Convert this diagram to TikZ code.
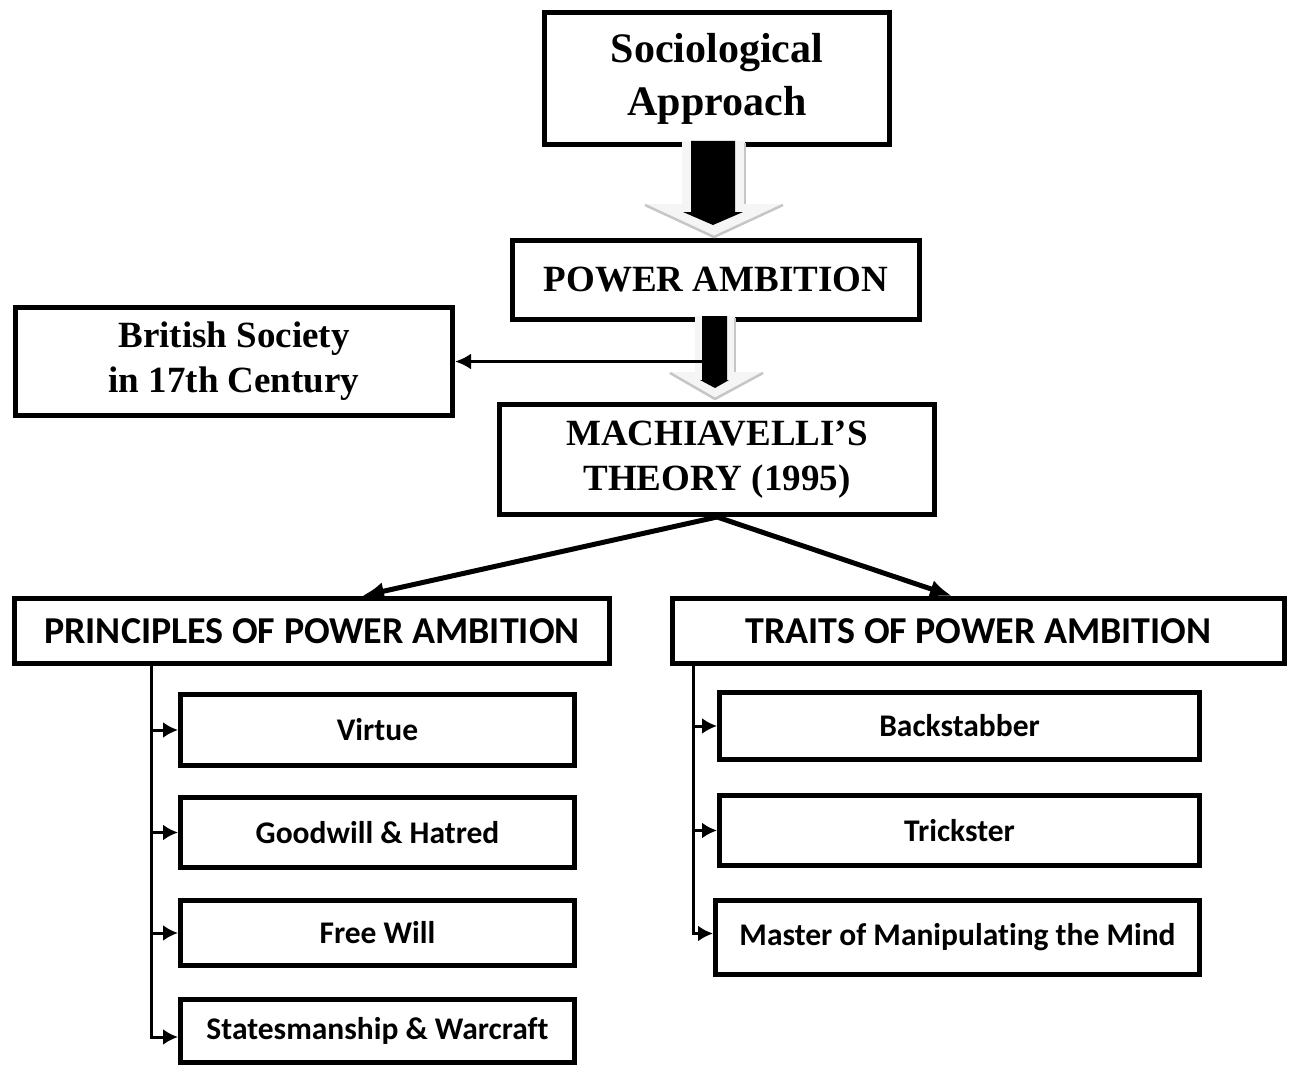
\documentclass[tikz,border=0pt]{standalone}
\usepackage{fontspec}
\setmainfont{Liberation Serif}
\newfontfamily\carl[Ligatures={NoCommon}]{Carlito}
\usetikzlibrary{arrows.meta}
\begin{document}
\begin{tikzpicture}[x=1pt,y=-1pt,
 box/.style={draw,line width=5pt,inner sep=0pt,align=center,fill=white},
 bigserif/.style={font=\bfseries\fontsize{42}{53}\selectfont},
 serif/.style={font=\bfseries\fontsize{37}{45}\selectfont},
 headtxt/.style={font=\carl\bfseries\fontsize{38}{46}\selectfont},
 itemtxt/.style={font=\carl\bfseries\fontsize{31.5}{38}\selectfont},
 branch/.style={line width=3pt,-{Latex[length=15pt,width=16pt]}},
 fork/.style={line width=5pt,-{Latex[length=22pt,width=18pt]}},
 side/.style={line width=3pt,-{Latex[length=16pt,width=16pt]}},
 glow/.style={fill=gray!8},
 glowedge/.style={draw=gray!45,line width=2.5pt,line join=round},
 core/.style={fill=black},
]
\useasboundingbox (0,0) rectangle (1296,1070);

% boxes
\node[box,bigserif,minimum width=345pt,minimum height=132pt] (soc) at (717,78.5) {Sociological\\Approach};
\node[box,serif,minimum width=407pt,minimum height=79pt] (pow) at (716,280) {POWER AMBITION};
\node[box,serif,minimum width=437pt,minimum height=108pt] (brit) at (234,361.5) {British Society\\in 17th Century};
\node[box,serif,minimum width=435pt,minimum height=110pt] (mach) at (717,459.5) {MACHIAVELLI’S\\THEORY (1995)};
\node[box,headtxt,minimum width=595pt,minimum height=65pt] (prin) at (312,631) {PRINCIPLES OF POWER AMBITION};
\node[box,headtxt,minimum width=612pt,minimum height=65pt] (trait) at (978.5,631) {TRAITS OF POWER AMBITION};

\node[box,itemtxt,minimum width=394pt,minimum height=71pt] (virt) at (377.5,730) {Virtue};
\node[box,itemtxt,minimum width=394pt,minimum height=70pt] (good) at (377.5,832.5) {Goodwill \& Hatred};
\node[box,itemtxt,minimum width=394pt,minimum height=65pt] (free) at (377.5,933) {Free Will};
\node[box,itemtxt,minimum width=394pt,minimum height=63pt] (stat) at (377.5,1031) {Statesmanship \& Warcraft};

\node[box,itemtxt,minimum width=480pt,minimum height=67pt] (back) at (959.5,726) {Backstabber};
\node[box,itemtxt,minimum width=480pt,minimum height=70pt] (trick) at (959.5,830.5) {Trickster};
\node[box,itemtxt,minimum width=484pt,minimum height=74pt] (mast) at (957.5,937.5) {Master of Manipulating the Mind};

% block arrow 1
\begin{scope}[shift={(soc.south)}]
 \path[glow] (-35,-6) -- (28,-6) -- (28,57) -- (68,57) -- (-3,91) -- (-74,57) -- (-35,57) -- cycle;
 \path[glowedge] (28,-4) -- (28,57);
 \path[glowedge] (66,58) -- (-3,90) -- (-72,58);
 \path[core] (-26,-6) -- (18,-6) -- (18,65) -- (26,65) -- (-4,78) -- (-34,65) -- (-26,65) -- cycle;
\end{scope}

% block arrow 2 and side arrow
\coordinate (bs) at ([xshift=-10pt]pow.south |- brit.east);
\begin{scope}[shift={(pow.south)}]
 \path[glow] (-21,-6) -- (19,-6) -- (19,50) -- (49,50) -- (-1,78) -- (-48,50) -- (-21,50) -- cycle;
 \path[glowedge] (19,-4) -- (19,50);
 \path[glowedge] (47,51) -- (-1,77) -- (-46,51);
\end{scope}
\draw[side] (bs) -- (brit.east);
\begin{scope}[shift={(pow.south)}]
 \path[core] (-14,-6) -- (11,-6) -- (11,58) -- (13,58) -- (-1,66) -- (-16,58) -- (-14,58) -- cycle;
\end{scope}

% fork arrows
\draw[fork] (mach.south) -- ([xshift=50pt]prin.north);
\draw[fork] (mach.south) -- ([xshift=-26.5pt]trait.north);

% left trunk
\coordinate (lt) at ([xshift=-161pt]prin.south);
\draw[branch] (lt) |- ([yshift=-6pt]stat.west);
\draw[branch] (lt |- virt.west) -- (virt.west);
\draw[branch] (lt |- good.west) -- (good.west);
\draw[branch] (lt |- free.west) -- (free.west);

% right trunk
\coordinate (rt) at ([xshift=-285.5pt]trait.south);
\draw[branch] (rt) |- ([yshift=4pt]mast.west);
\draw[branch] (rt |- back.west) -- (back.west);
\draw[branch] (rt |- trick.west) -- (trick.west);
\end{tikzpicture}
\end{document}
